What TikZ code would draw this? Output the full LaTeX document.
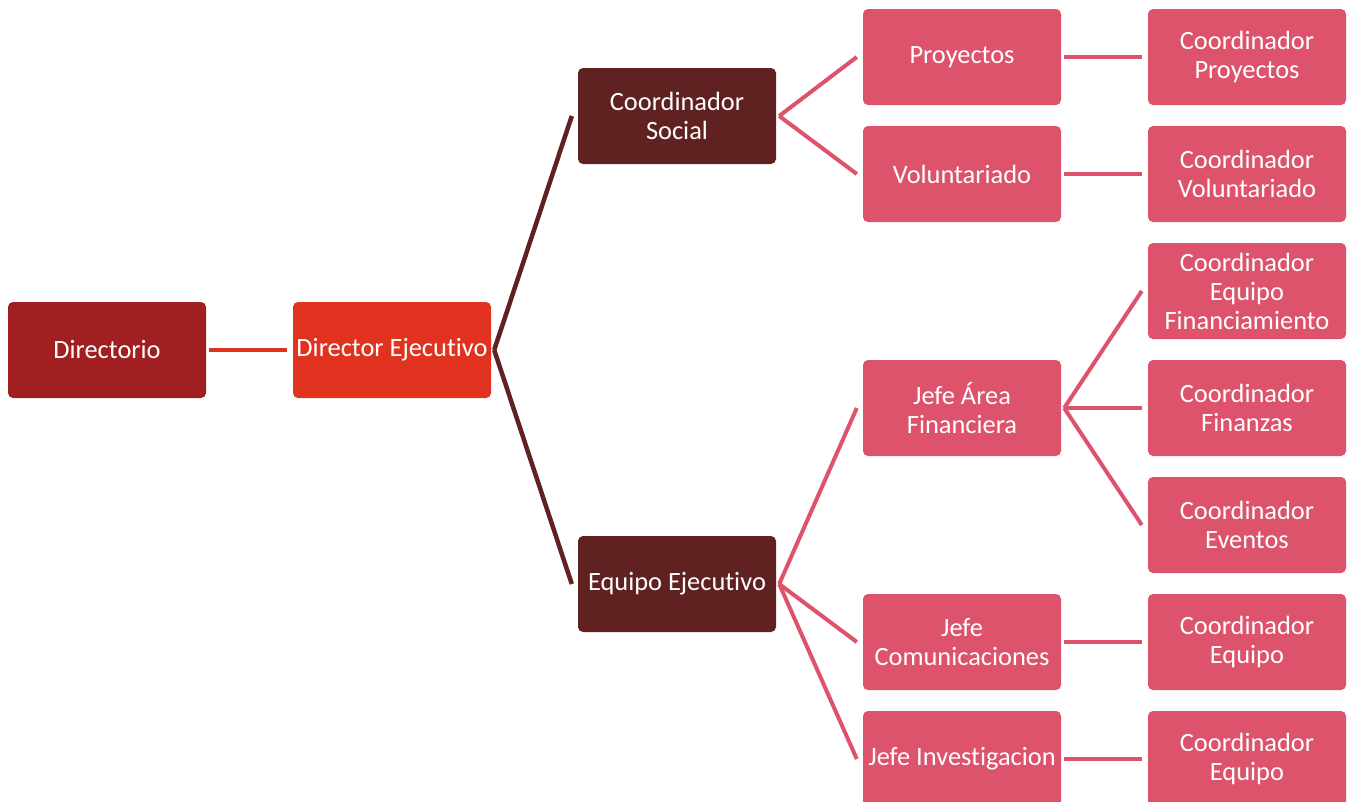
\documentclass[tikz,border=0pt]{standalone}
\usepackage{fontspec}
\setmainfont{Carlito}[Ligatures=NoCommon]
\usetikzlibrary{calc}
\definecolor{cDir}{RGB}{162,31,33}
\definecolor{cDE}{RGB}{224,50,31}
\definecolor{cBrown}{RGB}{96,34,32}
\definecolor{cPink}{RGB}{220,83,107}
\begin{document}
\begin{tikzpicture}[x=1pt,y=-1pt,
  box/.style={rectangle, rounded corners=5pt, minimum width=198pt, minimum height=96pt,
    inner sep=0pt, align=center, text=white, font=\fontsize{26.4}{29}\selectfont},
  lnk/.style={line width=4.5pt},
]
\clip (0,0) rectangle (1350,801);
\fill[white] (0,0) rectangle (1350,801);
% level 0-1
\node[box, fill=cDir] (dir) at (107,350) {Directorio};
\node[box, fill=cDE] (de) at (392,350) {Director Ejecutivo};
% level 2
\node[box, fill=cBrown] (cs) at (677,116) {Coordinador\\Social};
\node[box, fill=cBrown] (ee) at (677,584) {Equipo Ejecutivo};
% level 3
\node[box, fill=cPink] (pr) at (962,57) {Proyectos};
\node[box, fill=cPink] (vo) at (962,174) {Voluntariado};
\node[box, fill=cPink] (jaf) at (962,408) {Jefe Área\\Financiera};
\node[box, fill=cPink] (jc) at (962,642) {Jefe\\Comunicaciones};
\node[box, fill=cPink] (ji) at (962,759) {Jefe Investigacion};
% level 4
\node[box, fill=cPink] (cp) at (1247,57) {Coordinador\\Proyectos};
\node[box, fill=cPink] (cv) at (1247,174) {Coordinador\\Voluntariado};
\node[box, fill=cPink] (cef) at (1247,291) {Coordinador\\Equipo\\Financiamiento};
\node[box, fill=cPink] (cf) at (1247,408) {Coordinador\\Finanzas};
\node[box, fill=cPink] (cev) at (1247,525) {Coordinador\\Eventos};
\node[box, fill=cPink] (ce1) at (1247,642) {Coordinador\\Equipo};
\node[box, fill=cPink] (ce2) at (1247,759) {Coordinador\\Equipo};
% connectors
\draw[lnk, cDE] ($(dir.east)+(3,0)$) -- ($(de.west)+(-6,0)$);
\draw[lnk, cBrown] ($(de.east)+(3,0)$) -- ($(cs.west)+(-6,0)$);
\draw[lnk, cBrown] ($(de.east)+(3,0)$) -- ($(ee.west)+(-6,0)$);
\foreach \p/\c in {cs/pr, cs/vo, ee/jaf, ee/jc, ee/ji, pr/cp, vo/cv, jaf/cef, jaf/cf, jaf/cev, jc/ce1, ji/ce2}{
  \draw[line width=4pt, cPink] ($(\p.east)+(3,0)$) -- ($(\c.west)+(-6,0)$);
}
\end{tikzpicture}
\end{document}
